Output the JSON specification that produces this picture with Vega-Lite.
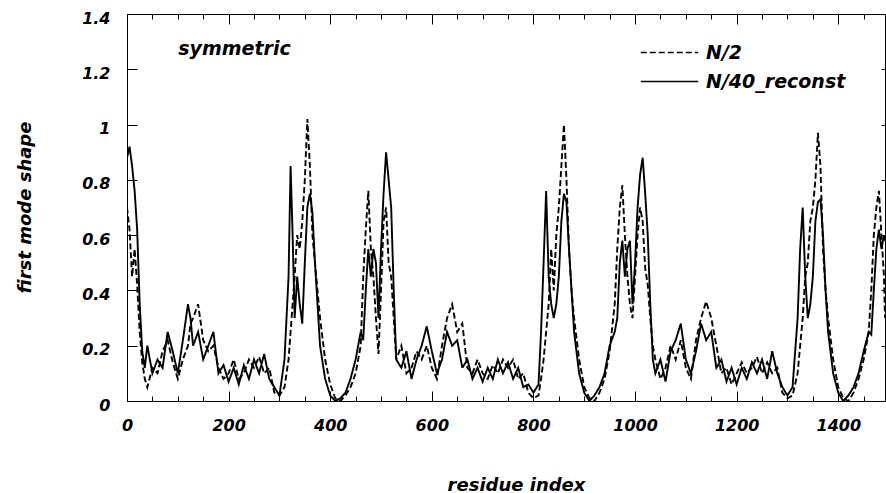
{
  "$schema": "https://vega.github.io/schema/vega-lite/v6.json",
  "autosize": "none",
  "width": 758,
  "height": 387,
  "padding": {"left": 127, "top": 14, "right": 1, "bottom": 92},
  "background": "white",
  "config": {
    "view": {"stroke": "black", "strokeWidth": 1},
    "axis": {"grid": false, "domainColor": "black", "tickColor": "black", "labelColor": "black", "titleColor": "black", "domainWidth": 1, "tickWidth": 1},
    "text": {"font": "DejaVu Sans"}
  },
  "data": {"values": [
    {"x":0,"N/2":0.70,"N/40_reconst":0.88},
    {"x":5,"N/2":0.62,"N/40_reconst":0.92},
    {"x":10,"N/2":0.45,"N/40_reconst":0.85},
    {"x":15,"N/2":0.55,"N/40_reconst":0.76},
    {"x":20,"N/2":0.42,"N/40_reconst":0.62},
    {"x":25,"N/2":0.25,"N/40_reconst":0.35},
    {"x":30,"N/2":0.14,"N/40_reconst":0.18},
    {"x":35,"N/2":0.08,"N/40_reconst":0.12},
    {"x":40,"N/2":0.05,"N/40_reconst":0.2},
    {"x":50,"N/2":0.12,"N/40_reconst":0.1},
    {"x":60,"N/2":0.1,"N/40_reconst":0.15},
    {"x":70,"N/2":0.18,"N/40_reconst":0.12},
    {"x":80,"N/2":0.22,"N/40_reconst":0.25},
    {"x":90,"N/2":0.14,"N/40_reconst":0.18},
    {"x":100,"N/2":0.08,"N/40_reconst":0.1},
    {"x":110,"N/2":0.15,"N/40_reconst":0.22},
    {"x":120,"N/2":0.2,"N/40_reconst":0.35},
    {"x":125,"N/2":0.28,"N/40_reconst":0.3},
    {"x":130,"N/2":0.3,"N/40_reconst":0.2},
    {"x":140,"N/2":0.35,"N/40_reconst":0.25},
    {"x":150,"N/2":0.22,"N/40_reconst":0.15},
    {"x":160,"N/2":0.18,"N/40_reconst":0.2},
    {"x":170,"N/2":0.2,"N/40_reconst":0.25},
    {"x":180,"N/2":0.12,"N/40_reconst":0.1},
    {"x":190,"N/2":0.08,"N/40_reconst":0.13},
    {"x":200,"N/2":0.1,"N/40_reconst":0.07},
    {"x":210,"N/2":0.15,"N/40_reconst":0.12},
    {"x":220,"N/2":0.08,"N/40_reconst":0.06},
    {"x":230,"N/2":0.1,"N/40_reconst":0.13},
    {"x":240,"N/2":0.15,"N/40_reconst":0.08},
    {"x":250,"N/2":0.12,"N/40_reconst":0.15},
    {"x":260,"N/2":0.16,"N/40_reconst":0.1},
    {"x":270,"N/2":0.1,"N/40_reconst":0.17},
    {"x":280,"N/2":0.12,"N/40_reconst":0.08},
    {"x":290,"N/2":0.03,"N/40_reconst":0.05},
    {"x":300,"N/2":0.02,"N/40_reconst":0.02},
    {"x":310,"N/2":0.05,"N/40_reconst":0.15},
    {"x":318,"N/2":0.15,"N/40_reconst":0.45},
    {"x":322,"N/2":0.25,"N/40_reconst":0.85},
    {"x":326,"N/2":0.35,"N/40_reconst":0.6},
    {"x":330,"N/2":0.45,"N/40_reconst":0.3},
    {"x":335,"N/2":0.6,"N/40_reconst":0.45},
    {"x":340,"N/2":0.55,"N/40_reconst":0.35},
    {"x":345,"N/2":0.65,"N/40_reconst":0.28},
    {"x":350,"N/2":0.8,"N/40_reconst":0.5},
    {"x":355,"N/2":1.02,"N/40_reconst":0.7},
    {"x":360,"N/2":0.85,"N/40_reconst":0.75},
    {"x":365,"N/2":0.6,"N/40_reconst":0.68},
    {"x":370,"N/2":0.5,"N/40_reconst":0.5},
    {"x":375,"N/2":0.4,"N/40_reconst":0.35},
    {"x":380,"N/2":0.3,"N/40_reconst":0.2},
    {"x":390,"N/2":0.15,"N/40_reconst":0.08},
    {"x":400,"N/2":0.06,"N/40_reconst":0.02},
    {"x":410,"N/2":0.01,"N/40_reconst":0.0},
    {"x":420,"N/2":0.0,"N/40_reconst":0.01},
    {"x":430,"N/2":0.02,"N/40_reconst":0.03},
    {"x":440,"N/2":0.05,"N/40_reconst":0.08},
    {"x":450,"N/2":0.1,"N/40_reconst":0.15},
    {"x":460,"N/2":0.2,"N/40_reconst":0.25},
    {"x":465,"N/2":0.45,"N/40_reconst":0.22},
    {"x":470,"N/2":0.62,"N/40_reconst":0.4},
    {"x":475,"N/2":0.76,"N/40_reconst":0.55},
    {"x":480,"N/2":0.55,"N/40_reconst":0.45},
    {"x":485,"N/2":0.45,"N/40_reconst":0.55},
    {"x":490,"N/2":0.3,"N/40_reconst":0.5},
    {"x":495,"N/2":0.17,"N/40_reconst":0.3},
    {"x":500,"N/2":0.4,"N/40_reconst":0.55},
    {"x":505,"N/2":0.65,"N/40_reconst":0.75},
    {"x":510,"N/2":0.7,"N/40_reconst":0.9},
    {"x":515,"N/2":0.5,"N/40_reconst":0.8},
    {"x":520,"N/2":0.45,"N/40_reconst":0.7},
    {"x":525,"N/2":0.3,"N/40_reconst":0.4},
    {"x":530,"N/2":0.15,"N/40_reconst":0.15},
    {"x":540,"N/2":0.2,"N/40_reconst":0.12},
    {"x":550,"N/2":0.1,"N/40_reconst":0.18},
    {"x":560,"N/2":0.12,"N/40_reconst":0.08},
    {"x":570,"N/2":0.18,"N/40_reconst":0.15},
    {"x":580,"N/2":0.15,"N/40_reconst":0.2},
    {"x":590,"N/2":0.2,"N/40_reconst":0.27},
    {"x":600,"N/2":0.12,"N/40_reconst":0.18},
    {"x":610,"N/2":0.08,"N/40_reconst":0.1},
    {"x":620,"N/2":0.2,"N/40_reconst":0.15},
    {"x":630,"N/2":0.3,"N/40_reconst":0.25},
    {"x":640,"N/2":0.35,"N/40_reconst":0.2},
    {"x":650,"N/2":0.25,"N/40_reconst":0.22},
    {"x":660,"N/2":0.28,"N/40_reconst":0.12},
    {"x":670,"N/2":0.12,"N/40_reconst":0.15},
    {"x":680,"N/2":0.1,"N/40_reconst":0.08},
    {"x":690,"N/2":0.15,"N/40_reconst":0.12},
    {"x":700,"N/2":0.1,"N/40_reconst":0.07},
    {"x":710,"N/2":0.08,"N/40_reconst":0.12},
    {"x":720,"N/2":0.13,"N/40_reconst":0.08},
    {"x":730,"N/2":0.1,"N/40_reconst":0.15},
    {"x":740,"N/2":0.15,"N/40_reconst":0.1},
    {"x":750,"N/2":0.12,"N/40_reconst":0.14},
    {"x":760,"N/2":0.15,"N/40_reconst":0.08},
    {"x":770,"N/2":0.08,"N/40_reconst":0.12},
    {"x":780,"N/2":0.1,"N/40_reconst":0.05},
    {"x":790,"N/2":0.03,"N/40_reconst":0.06},
    {"x":800,"N/2":0.01,"N/40_reconst":0.03},
    {"x":810,"N/2":0.02,"N/40_reconst":0.06},
    {"x":815,"N/2":0.08,"N/40_reconst":0.25},
    {"x":820,"N/2":0.15,"N/40_reconst":0.5},
    {"x":825,"N/2":0.25,"N/40_reconst":0.76},
    {"x":830,"N/2":0.35,"N/40_reconst":0.45},
    {"x":835,"N/2":0.55,"N/40_reconst":0.35},
    {"x":840,"N/2":0.4,"N/40_reconst":0.3},
    {"x":845,"N/2":0.6,"N/40_reconst":0.35},
    {"x":850,"N/2":0.7,"N/40_reconst":0.45},
    {"x":855,"N/2":0.85,"N/40_reconst":0.65},
    {"x":860,"N/2":1.0,"N/40_reconst":0.75},
    {"x":865,"N/2":0.8,"N/40_reconst":0.72},
    {"x":870,"N/2":0.55,"N/40_reconst":0.55},
    {"x":875,"N/2":0.4,"N/40_reconst":0.4},
    {"x":880,"N/2":0.3,"N/40_reconst":0.25},
    {"x":890,"N/2":0.15,"N/40_reconst":0.1},
    {"x":900,"N/2":0.05,"N/40_reconst":0.03},
    {"x":910,"N/2":0.01,"N/40_reconst":0.0},
    {"x":920,"N/2":0.0,"N/40_reconst":0.02},
    {"x":930,"N/2":0.03,"N/40_reconst":0.05},
    {"x":940,"N/2":0.08,"N/40_reconst":0.1},
    {"x":950,"N/2":0.18,"N/40_reconst":0.2},
    {"x":960,"N/2":0.35,"N/40_reconst":0.25},
    {"x":965,"N/2":0.55,"N/40_reconst":0.3},
    {"x":970,"N/2":0.7,"N/40_reconst":0.5},
    {"x":975,"N/2":0.78,"N/40_reconst":0.58},
    {"x":980,"N/2":0.6,"N/40_reconst":0.45},
    {"x":985,"N/2":0.45,"N/40_reconst":0.55},
    {"x":990,"N/2":0.35,"N/40_reconst":0.58},
    {"x":995,"N/2":0.3,"N/40_reconst":0.35},
    {"x":1000,"N/2":0.45,"N/40_reconst":0.5},
    {"x":1005,"N/2":0.6,"N/40_reconst":0.7},
    {"x":1010,"N/2":0.7,"N/40_reconst":0.82},
    {"x":1015,"N/2":0.65,"N/40_reconst":0.88},
    {"x":1020,"N/2":0.48,"N/40_reconst":0.75},
    {"x":1025,"N/2":0.42,"N/40_reconst":0.6},
    {"x":1030,"N/2":0.3,"N/40_reconst":0.35},
    {"x":1035,"N/2":0.2,"N/40_reconst":0.15},
    {"x":1040,"N/2":0.15,"N/40_reconst":0.1},
    {"x":1050,"N/2":0.08,"N/40_reconst":0.15},
    {"x":1060,"N/2":0.12,"N/40_reconst":0.07},
    {"x":1070,"N/2":0.2,"N/40_reconst":0.18},
    {"x":1080,"N/2":0.15,"N/40_reconst":0.22},
    {"x":1090,"N/2":0.22,"N/40_reconst":0.28},
    {"x":1100,"N/2":0.12,"N/40_reconst":0.15},
    {"x":1110,"N/2":0.08,"N/40_reconst":0.1},
    {"x":1120,"N/2":0.22,"N/40_reconst":0.18},
    {"x":1130,"N/2":0.3,"N/40_reconst":0.28},
    {"x":1140,"N/2":0.36,"N/40_reconst":0.22},
    {"x":1150,"N/2":0.3,"N/40_reconst":0.25},
    {"x":1160,"N/2":0.2,"N/40_reconst":0.12},
    {"x":1170,"N/2":0.1,"N/40_reconst":0.15},
    {"x":1180,"N/2":0.12,"N/40_reconst":0.07},
    {"x":1190,"N/2":0.06,"N/40_reconst":0.12},
    {"x":1200,"N/2":0.1,"N/40_reconst":0.06},
    {"x":1210,"N/2":0.14,"N/40_reconst":0.12},
    {"x":1220,"N/2":0.1,"N/40_reconst":0.08},
    {"x":1230,"N/2":0.12,"N/40_reconst":0.14},
    {"x":1240,"N/2":0.16,"N/40_reconst":0.1},
    {"x":1250,"N/2":0.1,"N/40_reconst":0.15},
    {"x":1260,"N/2":0.14,"N/40_reconst":0.08},
    {"x":1270,"N/2":0.1,"N/40_reconst":0.18},
    {"x":1280,"N/2":0.12,"N/40_reconst":0.1},
    {"x":1290,"N/2":0.03,"N/40_reconst":0.05},
    {"x":1300,"N/2":0.01,"N/40_reconst":0.02},
    {"x":1310,"N/2":0.02,"N/40_reconst":0.05},
    {"x":1320,"N/2":0.1,"N/40_reconst":0.3},
    {"x":1325,"N/2":0.2,"N/40_reconst":0.55},
    {"x":1330,"N/2":0.3,"N/40_reconst":0.7},
    {"x":1335,"N/2":0.45,"N/40_reconst":0.45},
    {"x":1340,"N/2":0.5,"N/40_reconst":0.3},
    {"x":1345,"N/2":0.65,"N/40_reconst":0.35},
    {"x":1350,"N/2":0.7,"N/40_reconst":0.45},
    {"x":1355,"N/2":0.8,"N/40_reconst":0.65},
    {"x":1360,"N/2":0.97,"N/40_reconst":0.72},
    {"x":1365,"N/2":0.85,"N/40_reconst":0.73},
    {"x":1370,"N/2":0.55,"N/40_reconst":0.6},
    {"x":1375,"N/2":0.4,"N/40_reconst":0.4},
    {"x":1380,"N/2":0.3,"N/40_reconst":0.25},
    {"x":1390,"N/2":0.15,"N/40_reconst":0.1},
    {"x":1400,"N/2":0.05,"N/40_reconst":0.03},
    {"x":1410,"N/2":0.01,"N/40_reconst":0.0},
    {"x":1420,"N/2":0.0,"N/40_reconst":0.02},
    {"x":1430,"N/2":0.03,"N/40_reconst":0.05},
    {"x":1440,"N/2":0.08,"N/40_reconst":0.1},
    {"x":1450,"N/2":0.15,"N/40_reconst":0.18},
    {"x":1460,"N/2":0.25,"N/40_reconst":0.25},
    {"x":1465,"N/2":0.4,"N/40_reconst":0.24},
    {"x":1470,"N/2":0.6,"N/40_reconst":0.4},
    {"x":1475,"N/2":0.7,"N/40_reconst":0.55},
    {"x":1480,"N/2":0.76,"N/40_reconst":0.62},
    {"x":1485,"N/2":0.6,"N/40_reconst":0.55},
    {"x":1490,"N/2":0.45,"N/40_reconst":0.6},
    {"x":1492,"N/2":0.3,"N/40_reconst":0.58}
  ]},
  "resolve": {"axis": {"x": "independent", "y": "independent"}},
  "layer": [
    {
      "transform": [{"fold": ["N/2", "N/40_reconst"], "as": ["series", "value"]}],
      "mark": {"type": "line", "color": "black", "strokeWidth": 1.9, "clip": true},
      "encoding": {
        "x": {"field": "x", "type": "quantitative",
          "scale": {"domain": [0, 1492], "nice": false, "zero": false},
          "axis": {"orient": "bottom",
            "values": [0,50,100,150,200,250,300,350,400,450,500,550,600,650,700,750,800,850,900,950,1000,1050,1100,1150,1200,1250,1300,1350,1400,1450],
            "format": "d",
            "labelExpr": "datum.value % 200 === 0 ? datum.label : ''",
            "tickSize": {"condition": {"test": "datum.value % 200 === 0", "value": -10}, "value": -5},
            "labelPadding": 26, "labelFlush": false, "labelOverlap": false,
            "labelFont": "DejaVu Sans", "labelFontSize": 16, "labelFontStyle": "italic", "labelFontWeight": "bold",
            "title": "residue index", "titleFont": "DejaVu Sans", "titleFontSize": 18, "titleFontStyle": "italic", "titleFontWeight": "bold",
            "titleX": 389, "titleY": 89, "titleAlign": "center", "titleBaseline": "alphabetic"}},
        "y": {"field": "value", "type": "quantitative",
          "scale": {"domain": [0, 1.4], "nice": false, "zero": false},
          "axis": {"orient": "left",
            "values": [0,0.2,0.4,0.6,0.8,1,1.2,1.4],
            "format": "~g",
            "tickSize": -10,
            "labelPadding": 27, "labelOffset": 4, "labelFlush": false, "labelOverlap": false,
            "labelFont": "DejaVu Sans", "labelFontSize": 16, "labelFontStyle": "italic", "labelFontWeight": "bold",
            "title": "first mode shape", "titleFont": "DejaVu Sans", "titleFontSize": 18, "titleFontStyle": "italic", "titleFontWeight": "bold",
            "titleX": -102, "titleY": 193, "titleAngle": -90, "titleAlign": "center", "titleBaseline": "middle"}},
        "strokeDash": {"field": "series", "type": "nominal",
          "scale": {"domain": ["N/2", "N/40_reconst"], "range": [[6, 3], [1, 0]]},
          "legend": {"orient": "none", "legendX": 533, "legendY": 29, "title": null, "padding": 0,
            "symbolType": "M-5,0H5", "symbolSize": 132, "symbolStrokeColor": "black", "symbolStrokeWidth": 1.6,
            "symbolDash": [5, 3],
            "labelFont": "DejaVu Sans", "labelFontSize": 19, "labelFontStyle": "italic", "labelFontWeight": "bold", "labelColor": "black",
            "labelOffset": 27, "rowPadding": 9}}
      }
    },
    {
      "transform": [{"fold": ["N/2", "N/40_reconst"], "as": ["series", "value"]}],
      "mark": {"type": "line", "color": "black", "strokeOpacity": 0},
      "encoding": {
        "x": {"field": "x", "type": "quantitative",
          "axis": {"orient": "top",
            "values": [0,50,100,150,200,250,300,350,400,450,500,550,600,650,700,750,800,850,900,950,1000,1050,1100,1150,1200,1250,1300,1350,1400,1450],
            "labels": false, "title": null,
            "tickSize": {"condition": {"test": "datum.value % 200 === 0", "value": -10}, "value": -5}}},
        "y": {"field": "value", "type": "quantitative",
          "axis": {"orient": "right", "values": [0,0.2,0.4,0.6,0.8,1,1.2,1.4], "labels": false, "title": null, "tickSize": -4}}
      }
    },
    {
      "data": {"values": [{"label": "symmetric"}]},
      "mark": {"type": "text", "align": "left", "baseline": "alphabetic", "font": "DejaVu Sans", "fontSize": 19, "fontStyle": "italic", "fontWeight": "bold", "color": "black"},
      "encoding": {
        "x": {"datum": 101, "type": "quantitative", "axis": null},
        "y": {"datum": 1.25, "type": "quantitative", "axis": null},
        "text": {"field": "label"}
      }
    }
  ]
}
